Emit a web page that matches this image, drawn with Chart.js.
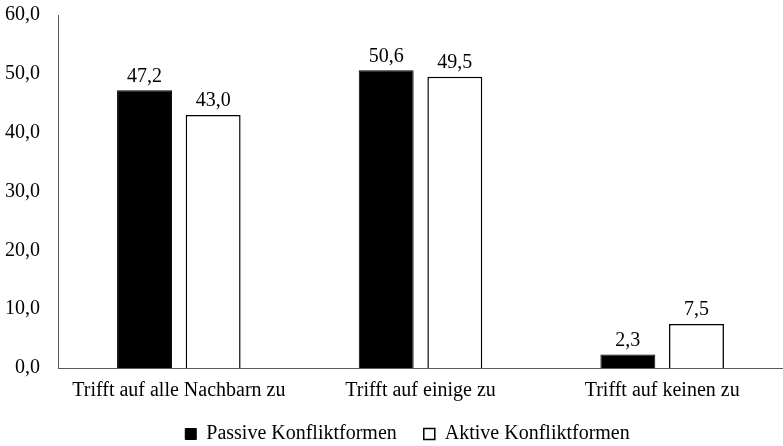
<!DOCTYPE html>
<html>
<head>
<meta charset="utf-8">
<script src="https://cdn.jsdelivr.net/npm/chart.js@4.4.1/dist/chart.umd.min.js"></script>
<style>
  html, body { margin: 0; padding: 0; background: #fff; }
  #wrap { width: 783px; height: 446px; }
</style>
</head>
<body>
<div id="wrap"><canvas id="bar_chart" width="783" height="446"></canvas></div>
<script>
var categories = ['Trifft auf alle Nachbarn zu', 'Trifft auf einige zu', 'Trifft auf keinen zu'];
var passiveValues = [47.2, 50.6, 2.3];
var activeValues = [43.0, 49.5, 7.5];
var seriesNames = ['Passive Konfliktformen', 'Aktive Konfliktformen'];

function fmt(v) {
    return Number(v).toFixed(1).replace('.', ',');
}

var fontFamily = '"Liberation Serif", "Times New Roman", serif';

// draws the value above every bar
var valueLabels = {
    id: 'valueLabels',
    afterDatasetsDraw: function(chart) {
        var ctx = chart.ctx;
        ctx.save();
        ctx.font = '20px ' + fontFamily;
        ctx.fillStyle = '#000';
        ctx.textAlign = 'center';
        ctx.textBaseline = 'bottom';
        chart.data.datasets.forEach(function(ds, i) {
            chart.getDatasetMeta(i).data.forEach(function(bar, j) {
                ctx.fillText(fmt(ds.data[j]), bar.x, bar.y - 4);
            });
        });
        ctx.restore();
    }
};

// legend: wider item gap without eating vertical space, nudged like the original
var legendTweak = {
    id: 'legendTweak',
    beforeLayout: function(chart) {
        var lg = chart.legend;
        if (lg && !lg._tweaked) {
            var fit = lg.fit;
            lg.fit = function() { fit.call(this); this.height = 32; };
            lg._tweaked = true;
        }
    },
    afterLayout: function(chart) {
        var lg = chart.legend;
        if (!lg) return;
        lg.top -= 17; lg.height += 17;
        lg.left += 14; lg.right += 14;
    }
};

var barData = {
    labels: categories,
    datasets: [
        {
            label: seriesNames[0],
            backgroundColor: '#000',
            borderColor: '#000',
            borderWidth: 1,
            data: passiveValues
        },
        {
            label: seriesNames[1],
            backgroundColor: '#fff',
            borderColor: '#000',
            borderWidth: 1.5,
            data: activeValues
        }
    ]
};

var barOptions = {
    responsive: false,
    animation: false,
    layout: { padding: { top: 15, left: 4, right: 0, bottom: 0 } },
    categoryPercentage: 0.568,
    barPercentage: 0.8,
    scales: {
        x: {
            grid: { display: false, drawTicks: false },
            border: { color: '#595959', width: 1 },
            ticks: { color: '#000', font: { family: fontFamily, size: 20 }, padding: 11 },
            afterFit: function(s) { s.paddingLeft = 0; s.paddingRight = 0; }
        },
        y: {
            min: 0,
            max: 60,
            grid: { display: false, drawTicks: false },
            border: { color: '#595959', width: 1 },
            ticks: {
                stepSize: 10,
                color: '#000',
                font: { family: fontFamily, size: 20 },
                padding: 18,
                callback: function(v) { return fmt(v); }
            },
            afterFit: function(s) { s.width = 54; s.paddingTop = 0; s.paddingBottom = 0; }
        }
    },
    plugins: {
        tooltip: { enabled: false },
        legend: {
            position: 'bottom',
            labels: {
                color: '#000',
                font: { family: fontFamily, size: 20 },
                boxWidth: 11,
                boxHeight: 11,
                padding: 27
            }
        }
    }
};

var ctx = document.getElementById('bar_chart').getContext('2d');
new Chart(ctx, { type: 'bar', data: barData, options: barOptions, plugins: [valueLabels, legendTweak] });
</script>
</body>
</html>
